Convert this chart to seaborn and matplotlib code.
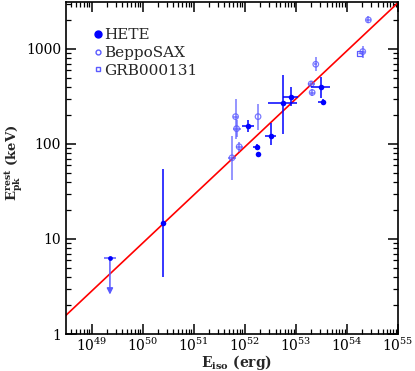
import numpy as np
import pandas as pd
import matplotlib
matplotlib.use("Agg")
import matplotlib.pyplot as plt
import seaborn as sns
from matplotlib.ticker import LogLocator, FixedLocator, NullFormatter

# ---- data ----
# HETE (filled)
hete_logE   = [52.07, 52.23, 52.25, 52.51, 52.75, 52.91, 53.49, 53.53, 50.40]
hete_Ep     = [155, 92, 79, 122, 268, 313, 393, 275, 14.9]
hete_xlo    = [51.95, 52.16, 52.25, 52.39, 52.46, 52.75, 53.29, 53.43, 50.40]
hete_xhi    = [52.19, 52.30, 52.25, 52.62, 53.02, 53.05, 53.66, 53.56, 50.40]
hete_ylo    = [133, 86, 79, 98, 126, 252, 306, 257, 4.0]
hete_yhi    = [179, 101, 79, 168, 536, 396, 510, 300, 55]
# HETE upper limit
ul_logE, ul_Ep, ul_xlo, ul_xhi, ul_arrow = 49.36, 6.25, 49.24, 49.48, 2.6

# BeppoSAX (open circles)
sax_logE = [51.75, 51.82, 51.84, 51.89, 52.26, 53.30, 53.32, 53.39, 54.31, 54.42]
sax_Ep   = [71.5, 194, 145, 93.5, 194, 429, 348, 690, 938, 2020]
sax_xlo  = [51.67, 51.77, 51.76, 51.82, 52.26, 53.24, 53.27, 53.36, 54.27, 54.37]
sax_xhi  = [51.83, 51.87, 51.92, 51.96, 52.26, 53.37, 53.37, 53.42, 54.35, 54.47]
sax_ylo  = [42, 112, 118, 82, 140, 405, 318, 580, 808, 1860]
sax_yhi  = [120, 300, 180, 105, 265, 455, 380, 830, 1085, 2200]

# GRB000131 (open square)
grb_logE, grb_Ep, grb_xlo, grb_xhi = 54.24, 901, 54.21, 54.29

# Amati relation fit: Ep = K * (E/1e52)^a
fit_K, fit_a = 93.0, 0.506
fit_logE_range = [48.5, 55.0]

blue = "#0000ff"
light = "#5a5aff"

sns.set_theme(style="ticks")
plt.rcParams['font.family'] = ['DejaVu Serif']
plt.rcParams['mathtext.fontset'] = 'dejavuserif'

fig = plt.figure(figsize=(4.15, 3.71), dpi=100)
ax = fig.add_axes([66/415, 37/371, 332/415, 332/371])

# fit line
fx = 10.0 ** np.array(fit_logE_range)
fy = fit_K * (fx / 1e52) ** fit_a
sns.lineplot(x=fx, y=fy, ax=ax, color="red", lw=1.2, zorder=2)

def errs(logE, Ep, xlo, xhi, ylo, yhi):
    x = 10.0 ** np.array(logE)
    y = np.array(Ep, float)
    xe = [x - 10.0 ** np.array(xlo), 10.0 ** np.array(xhi) - x]
    ye = [y - np.array(ylo), np.array(yhi) - y]
    return x, y, xe, ye

# BeppoSAX
x, y, xe, ye = errs(sax_logE, sax_Ep, sax_xlo, sax_xhi, sax_ylo, sax_yhi)
ax.errorbar(x, y, xerr=xe, yerr=ye, fmt="none", ecolor=light, elinewidth=1.2,
            alpha=0.75, zorder=3)
sns.scatterplot(x=x, y=y, ax=ax, marker="o", s=16, facecolor="none",
                edgecolor=light, linewidth=0.9, alpha=0.8, zorder=4)

# GRB000131
gx = 10.0 ** grb_logE
ax.errorbar([gx], [grb_Ep], xerr=[[gx - 10 ** grb_xlo], [10 ** grb_xhi - gx]],
            fmt="none", ecolor=light, elinewidth=1.0, alpha=0.8, zorder=3)
sns.scatterplot(x=[gx], y=[grb_Ep], ax=ax, marker="s", s=14, facecolor="none",
                edgecolor=light, linewidth=0.9, zorder=4)

# HETE
x, y, xe, ye = errs(hete_logE, hete_Ep, hete_xlo, hete_xhi, hete_ylo, hete_yhi)
ax.errorbar(x, y, xerr=xe, yerr=ye, fmt="none", ecolor=blue, elinewidth=1.1, zorder=5)
sns.scatterplot(x=x, y=y, ax=ax, marker="o", s=16, color=blue, edgecolor=blue,
                linewidth=0, zorder=6)

# upper limit
ux = 10.0 ** ul_logE
ax.errorbar([ux], [ul_Ep], xerr=[[ux - 10 ** ul_xlo], [10 ** ul_xhi - ux]],
            fmt="none", ecolor=light, elinewidth=1.1, zorder=5)
ax.annotate("", xy=(ux, ul_arrow), xytext=(ux, ul_Ep),
            arrowprops=dict(arrowstyle="-|>", color=light, lw=1.1,
                            mutation_scale=9, shrinkA=0, shrinkB=0), zorder=5)
sns.scatterplot(x=[ux], y=[ul_Ep], ax=ax, marker="o", s=12, color=blue,
                linewidth=0, zorder=6)

ax.set_xscale("log")
ax.set_yscale("log")
ax.set_xlim(10 ** 48.5, 1e55)
ax.set_ylim(1, 3120)

ax.xaxis.set_major_locator(FixedLocator([10.0 ** k for k in range(49, 56)]))
ax.set_xticklabels([r"$10^{%d}$" % k for k in range(49, 56)])
ax.xaxis.set_minor_locator(LogLocator(base=10, subs=np.arange(2, 10), numticks=50))
ax.xaxis.set_minor_formatter(NullFormatter())
ax.yaxis.set_major_locator(FixedLocator([1, 10, 100, 1000]))
ax.set_yticklabels(["1", "10", "100", "1000"])
ax.yaxis.set_minor_locator(LogLocator(base=10, subs=np.arange(2, 10), numticks=50))
ax.yaxis.set_minor_formatter(NullFormatter())

ax.tick_params(which="both", direction="in", top=True, right=True, colors="black",
               labelsize=10)
ax.tick_params(which="major", length=7, width=1.1)
ax.tick_params(which="minor", length=3.5, width=0.9)
ax.tick_params(axis="x", which="major", pad=2)
for s in ax.spines.values():
    s.set_linewidth(1.2)
    s.set_color("black")

ax.set_xlabel(r"E$_{\mathbf{iso}}$ (erg)", fontsize=10, fontweight="bold")
ax.set_ylabel(r"E$^{\mathbf{rest}}_{\mathbf{pk}}$ (keV)", fontsize=9.5, fontweight="bold")
ax.xaxis.set_label_coords(0.515, -0.058)
ax.yaxis.set_label_coords(-0.125, 0.515)

# legend
from matplotlib.lines import Line2D
handles = [
    Line2D([], [], ls="none", marker="o", ms=5, color=blue),
    Line2D([], [], ls="none", marker="o", ms=3.5, mfc="none", mec=light),
    Line2D([], [], ls="none", marker="s", ms=3.5, mfc="none", mec=light),
]
leg = ax.legend(handles, ["HETE", "BeppoSAX", "GRB000131"], loc="upper left",
                bbox_to_anchor=(0.06, 0.94), frameon=False, handletextpad=0.0,
                handlelength=0.8, labelspacing=0.25, fontsize=11, borderaxespad=0)

fig.savefig("out.png", dpi=100)
